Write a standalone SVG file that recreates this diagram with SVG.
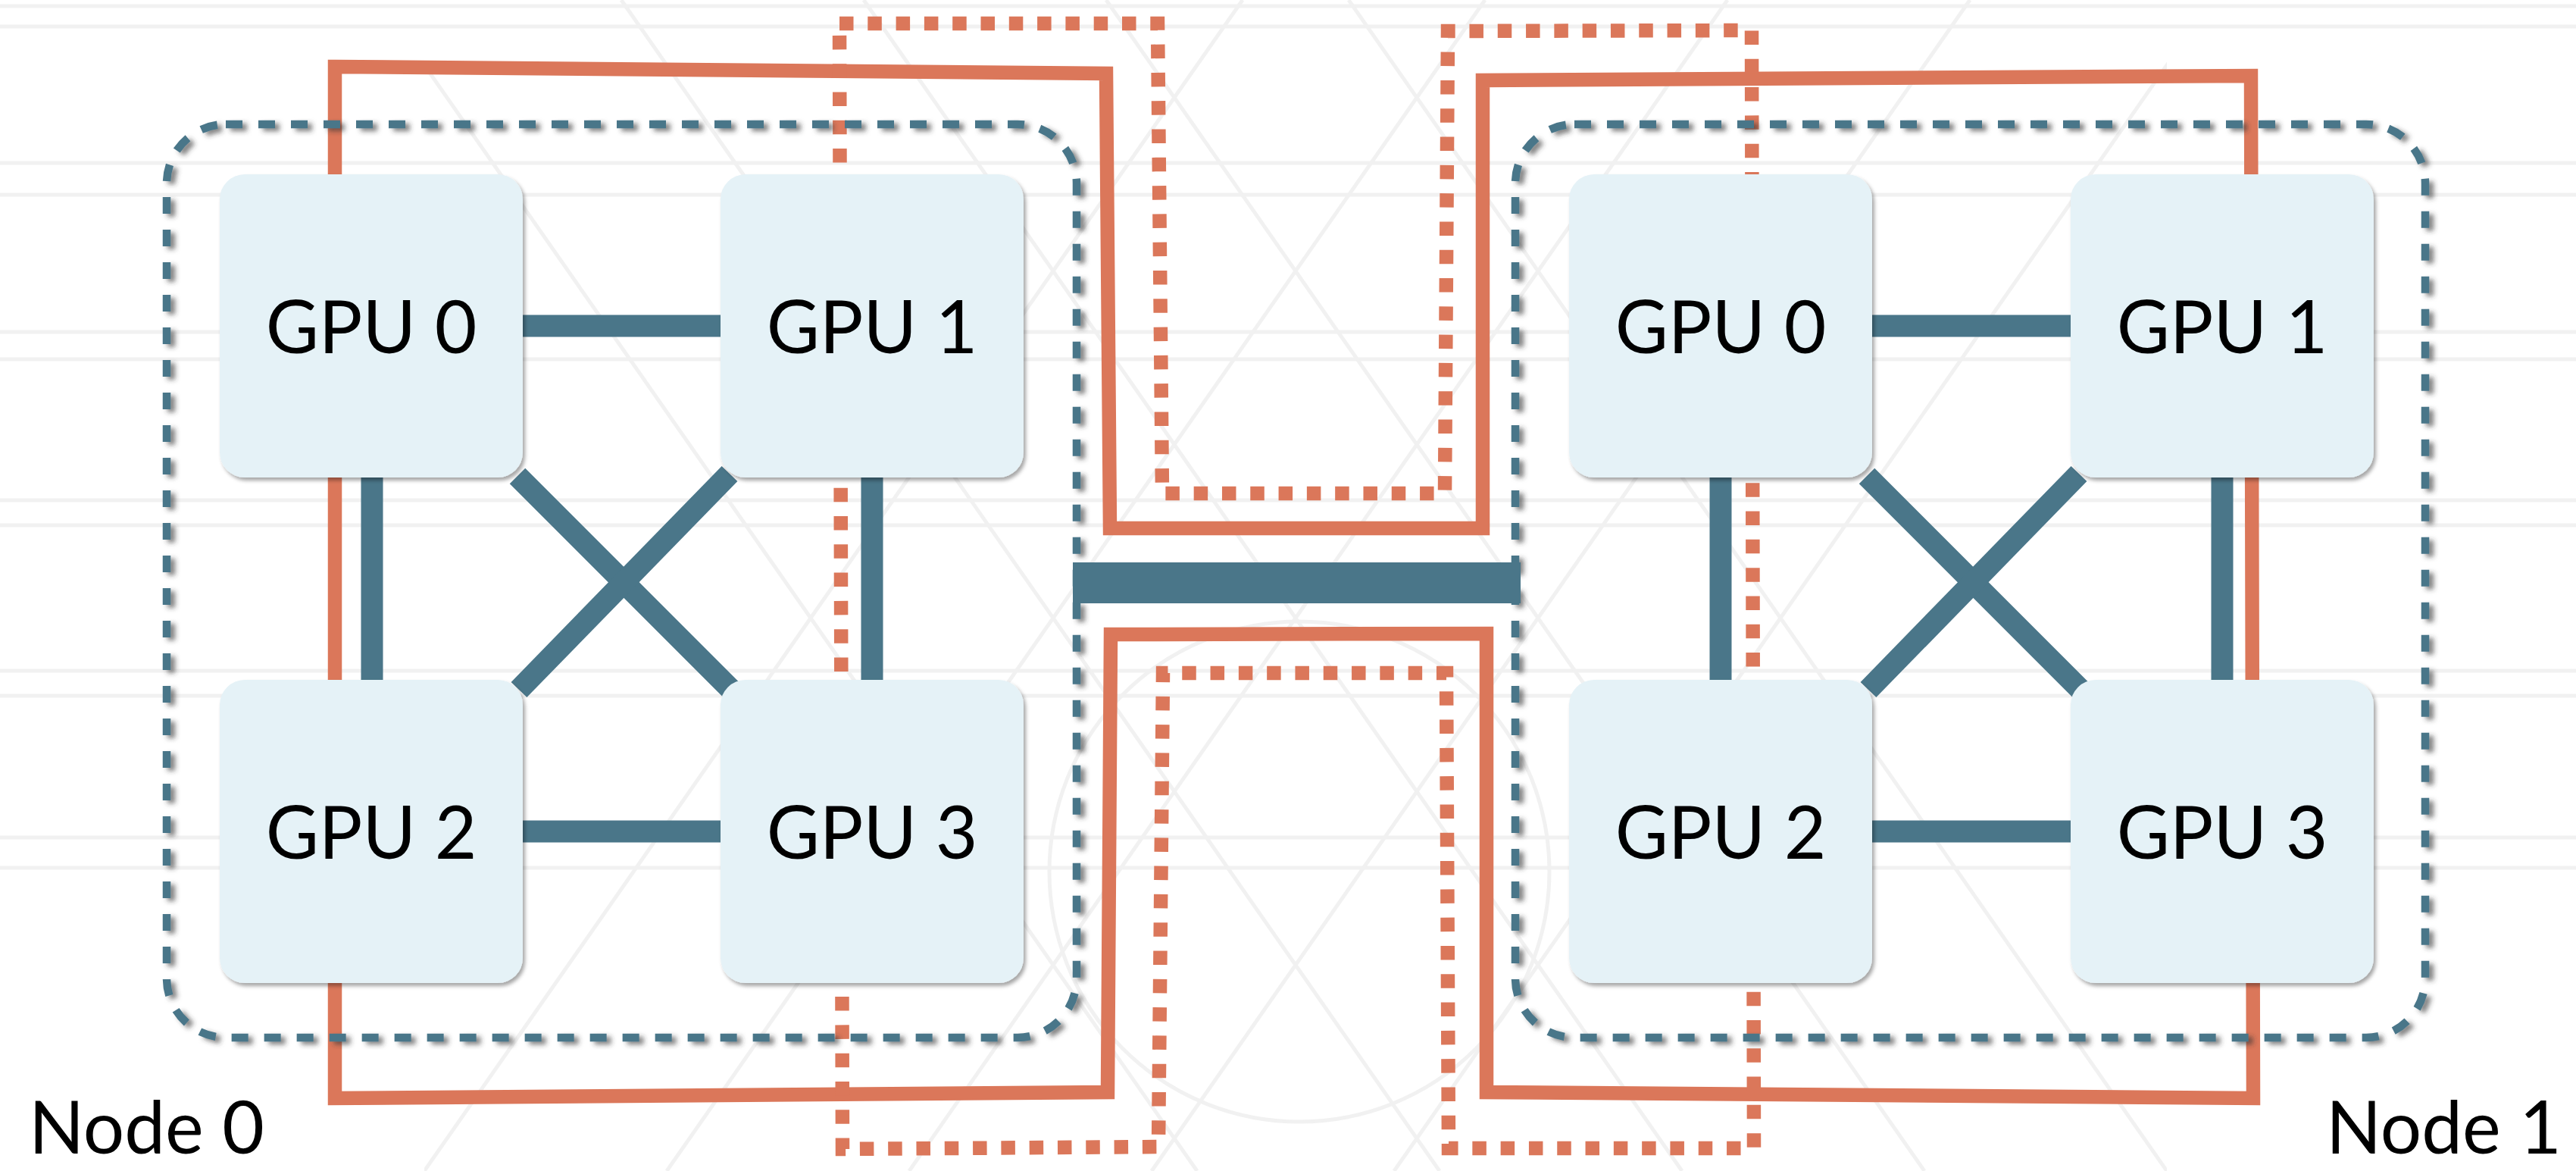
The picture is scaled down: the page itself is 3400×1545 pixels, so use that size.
<svg xmlns="http://www.w3.org/2000/svg" width="3400" height="1545" viewBox="0 0 3400 1545">
  <style>
    .gpu rect { fill: #E5F2F7; }
    .gpu text, .label { font-family: Lato, "Liberation Sans", "DejaVu Sans", sans-serif; font-size: 96px; fill: #000; }
    .gpu text { text-anchor: middle; }
    .link { stroke: #4A7689; stroke-width: 29; fill: none; stroke-linecap: butt; }
    .bridge { stroke: #4A7689; stroke-width: 54; fill: none; }
    .ring { stroke: #DB775A; stroke-width: 18.5; fill: none; stroke-linejoin: miter; }
    .ring-dot { stroke: #DB775A; stroke-width: 18.5; fill: none; stroke-dasharray: 18.5 18.8; stroke-linejoin: miter; }
    .node-frame { stroke: #4A7689; stroke-width: 10.5; fill: none; stroke-dasharray: 22 21; }
    .wm { stroke: #EEEEEE; stroke-width: 5; fill: none; }
  </style>
  <defs>
    <filter id="boxShadow" x="-10%" y="-10%" width="125%" height="125%">
      <feDropShadow dx="3" dy="4" stdDeviation="2.5" flood-color="#000" flood-opacity="0.35"/>
    </filter>
    <filter id="frameShadow" x="-5%" y="-5%" width="115%" height="115%">
      <feDropShadow dx="6" dy="4" stdDeviation="3" flood-color="#333" flood-opacity="0.6"/>
    </filter>
    <clipPath id="wmClip">
      <rect x="560" y="0" width="2300" height="1545"/>
    </clipPath>
  </defs>

  <rect width="3400" height="1545" fill="#FFFFFF"/>

  <!-- faint background pattern -->
  <g id="background" opacity="0.8">
    <g class="wm">
      <line x1="0" y1="8" x2="3400" y2="8"/>
      <line x1="0" y1="35" x2="3400" y2="35"/>
      <line x1="0" y1="215" x2="3400" y2="215"/>
      <line x1="0" y1="257" x2="3400" y2="257"/>
      <line x1="0" y1="438" x2="3400" y2="438"/>
      <line x1="0" y1="474" x2="3400" y2="474"/>
      <line x1="0" y1="660" x2="3400" y2="660"/>
      <line x1="0" y1="693" x2="3400" y2="693"/>
      <line x1="0" y1="885" x2="3400" y2="885"/>
      <line x1="0" y1="918" x2="3400" y2="918"/>
      <line x1="0" y1="1105" x2="3400" y2="1105"/>
      <line x1="0" y1="1145" x2="3400" y2="1145"/>
    </g>
    <g class="wm" clip-path="url(#wmClip)">
      <line x1="500" y1="0" x2="1580" y2="1545"/>
      <line x1="820" y1="0" x2="1900" y2="1545"/>
      <line x1="1140" y1="0" x2="2220" y2="1545"/>
      <line x1="1460" y1="0" x2="2540" y2="1545"/>
      <line x1="1780" y1="0" x2="2860" y2="1545"/>
      <line x1="1960" y1="0" x2="880" y2="1545"/>
      <line x1="2280" y1="0" x2="1200" y2="1545"/>
      <line x1="2600" y1="0" x2="1520" y2="1545"/>
      <line x1="2920" y1="0" x2="1840" y2="1545"/>
      <line x1="1640" y1="0" x2="560" y2="1545"/>
      <circle cx="1715" cy="1150" r="330"/>
    </g>
  </g>

  <!-- connectors -->
  <g id="connectors">
    <!-- inter-node ring, solid -->
    <path class="ring" d="M442,88 L1460,97 L1465,697 L1957,697 L1957,106 L2971,100 L2974,1449 L1962,1441 L1962,836 L1466,837 L1462,1441 L442,1449 Z"/>
    <!-- inter-node ring, dotted -->
    <path class="ring-dot" d="M1108,31 L1528,31 L1534,651 L1907,651 L1911,41 L2312,40 L2315,1515 L1912,1515 L1909,888 L1535,888 L1529,1513 L1112,1516 Z"/>

    <!-- Node 0 GPU links -->
    <line class="link" x1="690" y1="430" x2="951" y2="430"/>
    <line class="link" x1="690" y1="1097" x2="951" y2="1097"/>
    <line class="link" x1="491" y1="630" x2="491" y2="897"/>
    <line class="link" x1="1151" y1="630" x2="1151" y2="897"/>
    <line class="link" x1="683" y1="628" x2="965" y2="910"/>
    <line class="link" x1="963" y1="625" x2="685" y2="910"/>

    <!-- Node 1 GPU links -->
    <line class="link" x1="2471" y1="430" x2="2733" y2="430"/>
    <line class="link" x1="2471" y1="1097" x2="2733" y2="1097"/>
    <line class="link" x1="2271" y1="630" x2="2271" y2="897"/>
    <line class="link" x1="2933" y1="630" x2="2933" y2="897"/>
    <line class="link" x1="2464" y1="628" x2="2746" y2="910"/>
    <line class="link" x1="2744" y1="625" x2="2466" y2="910"/>
  </g>

  <!-- Node 0 GPUs -->
  <g id="node0-gpu0" class="gpu">
    <rect x="290" y="230" width="400" height="400" rx="33" filter="url(#boxShadow)"/>
    <text x="490" y="466">GPU 0</text>
  </g>
  <g id="node0-gpu1" class="gpu">
    <rect x="951" y="230" width="400" height="400" rx="33" filter="url(#boxShadow)"/>
    <text x="1151" y="466">GPU 1</text>
  </g>
  <g id="node0-gpu2" class="gpu">
    <rect x="290" y="897" width="400" height="400" rx="33" filter="url(#boxShadow)"/>
    <text x="490" y="1133">GPU 2</text>
  </g>
  <g id="node0-gpu3" class="gpu">
    <rect x="951" y="897" width="400" height="400" rx="33" filter="url(#boxShadow)"/>
    <text x="1151" y="1133">GPU 3</text>
  </g>

  <!-- Node 1 GPUs -->
  <g id="node1-gpu0" class="gpu">
    <rect x="2071" y="230" width="400" height="400" rx="33" filter="url(#boxShadow)"/>
    <text x="2271" y="466">GPU 0</text>
  </g>
  <g id="node1-gpu1" class="gpu">
    <rect x="2733" y="230" width="400" height="400" rx="33" filter="url(#boxShadow)"/>
    <text x="2933" y="466">GPU 1</text>
  </g>
  <g id="node1-gpu2" class="gpu">
    <rect x="2071" y="897" width="400" height="400" rx="33" filter="url(#boxShadow)"/>
    <text x="2271" y="1133">GPU 2</text>
  </g>
  <g id="node1-gpu3" class="gpu">
    <rect x="2733" y="897" width="400" height="400" rx="33" filter="url(#boxShadow)"/>
    <text x="2933" y="1133">GPU 3</text>
  </g>

  <!-- node enclosures -->
  <g id="node0" filter="url(#frameShadow)">
    <rect class="node-frame" x="220" y="164" width="1201" height="1205" rx="78"/>
  </g>
  <g id="node1" filter="url(#frameShadow)">
    <rect class="node-frame" x="2000" y="164" width="1201" height="1205" rx="78"/>
  </g>

  <!-- node-to-node link -->
  <g id="interconnect">
    <line class="bridge" x1="1416" y1="769" x2="2007" y2="769"/>
  </g>

  <text class="label" x="38" y="1522">Node 0</text>
  <text class="label" x="3381" y="1522" text-anchor="end">Node 1</text>
</svg>
